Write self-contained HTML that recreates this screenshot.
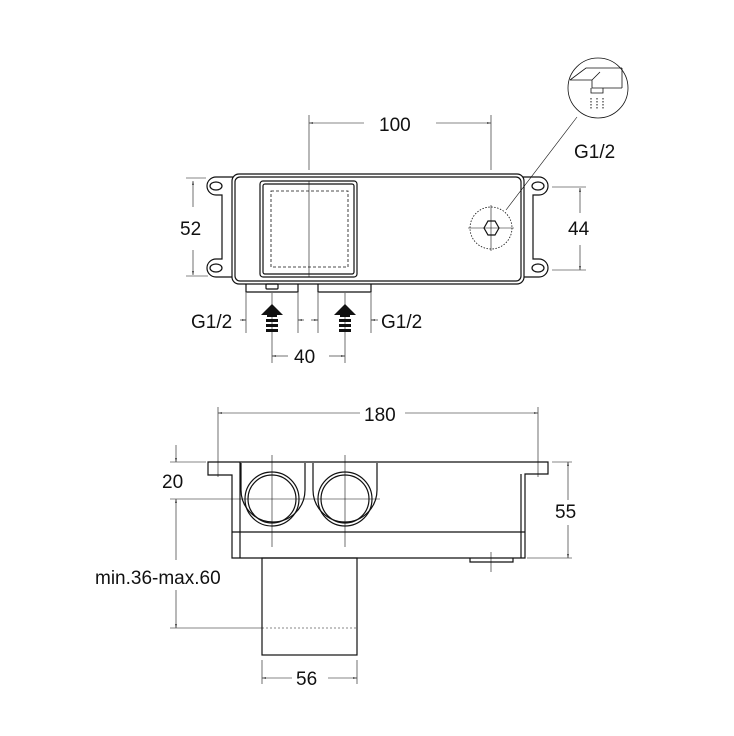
<!DOCTYPE html>
<html><head><style>body{margin:0;background:#fff}svg{display:block}text{font-family:"Liberation Sans",sans-serif;fill:#111}</style></head><body>
<svg width="734" height="736" viewBox="0 0 734 736" xmlns="http://www.w3.org/2000/svg">
<defs>
<marker id="a" viewBox="0 0 10 10" refX="10" refY="5" markerWidth="7" markerHeight="7" orient="auto-start-reverse"><path d="M0,3 L10,5 L0,7z" fill="#111"/></marker>
</defs>
<g fill="none" stroke="#111" stroke-width="1.2">
<!-- TOP VIEW -->
<path d="M233,177 H216 A9,9 0 0 0 216,195 H222 V259 H216 A9,9 0 0 0 216,277 H233"/>
<path d="M522,177 H539 A9,9 0 0 1 539,195 H533 V259 H539 A9,9 0 0 1 539,277 H522"/>
<ellipse cx="216" cy="186" rx="6" ry="4"/><ellipse cx="216" cy="268" rx="6" ry="4"/>
<ellipse cx="538" cy="186" rx="6" ry="4"/><ellipse cx="538" cy="268" rx="6" ry="4"/>
<rect x="232" y="174" width="292" height="110" rx="7" fill="#fff"/>
<rect x="235" y="177" width="286" height="104" rx="5"/>
<rect x="260" y="181" width="97" height="96" rx="3"/>
<rect x="263" y="184" width="91" height="90" rx="2"/>
<rect x="271" y="191" width="77" height="76" stroke-dasharray="3,2" stroke-width="0.8"/>
<path d="M246,284 v8 h52 v-8 M318,284 v8 h53 v-8" />
<rect x="266" y="284" width="12" height="5" rx="1"/>
<circle cx="491" cy="228" r="21" stroke-dasharray="1.5,1.5" stroke-width="0.8"/>
<path d="M484,228 l4,-7 h7 l4,7 l-4,7 h-7z"/>
<g stroke-width="0.6">
<path d="M468,228 h46 M491,205 v46"/>
<path d="M309,115 v55 M491,115 v55 M309,181 v96"/>
<path d="M186,178 h20 M186,276 h22 M552,187 h34 M552,270 h34"/>
<path d="M272,293 v70 M345,293 v70 M246,293 v40 M298,293 v40 M318,293 v40 M371,293 v40"/>
<path d="M506,210 L577,117"/>
</g>
<path d="M309,123 h55" stroke-width="0.6" marker-start="url(#a)"/>
<path d="M436,123 h55" stroke-width="0.6" marker-end="url(#a)"/>
<path d="M580,213 V188" stroke-width="0.6" marker-end="url(#a)"/><path d="M580,245 V270" stroke-width="0.6" marker-end="url(#a)"/>
<path d="M193,207 V181" stroke-width="0.6" marker-end="url(#a)"/><path d="M193,250 V275" stroke-width="0.6" marker-end="url(#a)"/>
<path d="M240,320 h6" stroke-width="0.6" marker-end="url(#a)"/><path d="M304,320 h-6" stroke-width="0.6" marker-end="url(#a)"/>
<path d="M311,320 h7" stroke-width="0.6" marker-end="url(#a)"/><path d="M378,320 h-7" stroke-width="0.6" marker-end="url(#a)"/>
<path d="M288,356 h-16" stroke-width="0.6" marker-end="url(#a)"/><path d="M329,356 h16" stroke-width="0.6" marker-end="url(#a)"/>
<!-- shower icon -->
<circle cx="598" cy="88" r="30" stroke-width="0.8"/>
<path d="M570,80 l16,-12 h36 M570,80 h22 l8,-8 M592,80 v8 h30 M622,68 v20" stroke-width="0.8"/>
<path d="M591,88 v5 h12 v-5" stroke-width="0.8"/>
</g>
<g fill="#111">
<path d="M272,304 l-11,11 h6 v2 h10 v-2 h6z"/><rect x="266" y="319" width="12" height="3"/><rect x="266" y="324" width="12" height="3"/><rect x="266" y="329" width="12" height="3"/>
<path d="M345,304 l-11,11 h6 v2 h10 v-2 h6z"/><rect x="339" y="319" width="12" height="3"/><rect x="339" y="324" width="12" height="3"/><rect x="339" y="329" width="12" height="3"/>
</g>
<g stroke="#111" stroke-width="1" stroke-dasharray="1.5,1.5"><path d="M591,98 v12 M597,98 v12 M603,98 v12"/></g>
<g font-size="19">
<text x="379" y="131">100</text>
<text x="574" y="158">G1/2</text>
<text x="180" y="235">52</text>
<text x="568" y="235">44</text>
<text x="191" y="328">G1/2</text>
<text x="381" y="328">G1/2</text>
<text x="294" y="363">40</text>
<text x="364" y="421">180</text>
<text x="162" y="488">20</text>
<text x="555" y="518">55</text>
<text x="95" y="584">min.36-max.60</text>
<text x="296" y="685">56</text>
</g>
<!-- BOTTOM VIEW -->
<g fill="none" stroke="#111" stroke-width="1.2">
<path d="M208,462 H548 V474 H525 V558 H232 V475 H208 Z"/>
<path d="M232,532 H525 M240,462 V558 M521,474 V558"/>
<path d="M241,463 V490 a32,32 0 0 0 64,0 V463 M313,463 V490 a32,32 0 0 0 64,0 V463"/>
<circle cx="272" cy="499" r="27"/><circle cx="272" cy="499" r="24"/>
<circle cx="345" cy="499" r="27"/><circle cx="345" cy="499" r="24"/>
<rect x="262" y="558" width="95" height="97"/>
<path d="M470,558 v4 h43 v-4"/>
<g stroke-width="0.6">
<path d="M218,407 v70 M538,407 v70 M272,455 v92 M345,455 v92 M225,499 h155 M491,552 v20"/>
<path d="M170,462 h36 M170,499 h55 M170,628 h92"/>
<path d="M262,628 h95" stroke-dasharray="2,2"/>
<path d="M552,462 h20 M527,558 h45 M262,660 v24 M357,660 v24"/>
<path d="M360,413 H218" marker-end="url(#a)"/><path d="M405,413 H538" marker-end="url(#a)"/>
<path d="M568,500 V462" marker-end="url(#a)"/><path d="M568,525 V558" marker-end="url(#a)"/>
<path d="M176,445 V462" marker-end="url(#a)"/><path d="M176,560 V499" marker-end="url(#a)"/><path d="M176,590 V628" marker-end="url(#a)"/>
<path d="M292,678 H262" marker-end="url(#a)"/><path d="M328,678 H357" marker-end="url(#a)"/>
</g>
</g>
</svg>
</body></html>
